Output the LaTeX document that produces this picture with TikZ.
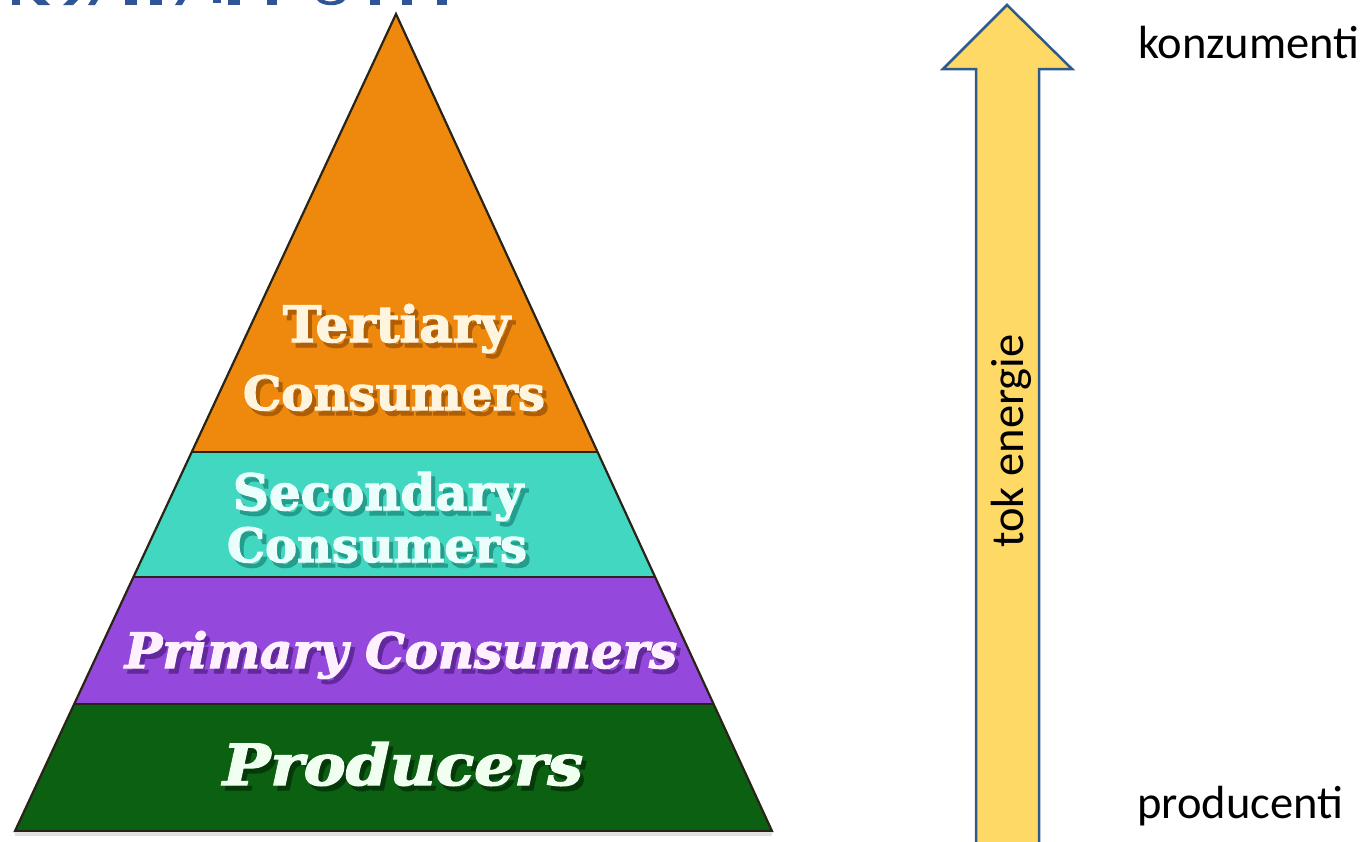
\documentclass[tikz,border=0pt]{standalone}
\usepackage{fontspec}
\usepackage{graphicx}
\setmainfont{Carlito}
\newfontfamily\slab[BoldFeatures={FakeBold=2.5},BoldItalicFeatures={FakeBold=2.5}]{DejaVu Serif}
\usetikzlibrary{calc}
\definecolor{orangeL}{HTML}{EE890E}
\definecolor{orangeD}{HTML}{7A3A00}
\definecolor{tealL}{HTML}{42D7C1}
\definecolor{tealD}{HTML}{0E6E60}
\definecolor{purpleL}{HTML}{9448DC}
\definecolor{purpleD}{HTML}{3A0F6A}
\definecolor{greenL}{HTML}{0C6012}
\definecolor{greenD}{HTML}{021F04}
\colorlet{orangeS}{orangeL!45!orangeD}
\colorlet{tealS}{tealL!45!tealD}
\colorlet{purpleS}{purpleL!45!purpleD}
\colorlet{greenS}{greenL!40!greenD}
\definecolor{creamT}{HTML}{FFF4DE}
\definecolor{tealT}{HTML}{EAFFFB}
\definecolor{pinkT}{HTML}{FFF0FF}
\definecolor{greenT}{HTML}{F0FFF0}
\definecolor{edgeC}{HTML}{2A2418}
\definecolor{arrowFill}{HTML}{FFD966}
\definecolor{arrowLine}{HTML}{2E5C8A}
\definecolor{titleBlue}{HTML}{2F5597}
% text with drop shadow: #1 width, #2 height, #3 text colour, #4 shadow colour, #5 text
\newcommand\shtext[5]{%
  \rlap{\hspace*{4bp}\raisebox{-5bp}{\textcolor{#4}{\resizebox{#1}{#2}{#5}}}}%
  \textcolor{#3}{\resizebox{#1}{#2}{#5}}}
\tikzset{
  lbl/.style={anchor=base, inner sep=0pt},
  pyredge/.style={draw=edgeC, line width=2.2bp, line join=miter},
  sepline/.style={draw=edgeC, line width=2.8bp},
  arrowst/.style={draw=arrowLine, fill=arrowFill, line width=2.5bp, line join=miter},
  sidelbl/.style={anchor=base west, inner sep=0pt, font=\fontsize{46.7}{56}\selectfont, text=black},
}
\begin{document}
\begin{tikzpicture}[x=1bp,y=-1bp]
\useasboundingbox (0,0) rectangle (1370,841);
% cut-off title fragments
\begin{scope}[fill=titleBlue]
\fill (12,0) rectangle (20,5);
\fill (33,0) -- (45,0) -- (50,5) -- (38,5) -- cycle;
\fill (68,0) -- (78,0) -- (73,5) -- (63,5) -- cycle;
\fill (91,0) -- (98,0) -- (95,5) -- (88,5) -- cycle;
\fill (125,0) rectangle (137,5);
\fill (150,0) rectangle (162,5);
\fill (178,0) -- (185,0) -- (182,5) -- (175,5) -- cycle;
\fill (213,0) rectangle (221,2.5);
\fill (228,0) rectangle (240,5);
\fill (267,0) rectangle (277,5);
\fill (317,0) .. controls (322,7) and (340,7) .. (345,0) -- (337,0) .. controls (334,2) and (327,2) .. (324,0) -- cycle;
\fill (370,0) rectangle (380,5);
\fill (402,0) rectangle (412,5);
\fill (437,0) rectangle (447,5);
\end{scope}
% pyramid
\coordinate (apex) at (396,14);
\coordinate (bl) at (15,831);
\coordinate (br) at (772,831);
\coordinate (l1) at ($(apex)!0.5361!(bl)$);
\coordinate (r1) at ($(apex)!0.5361!(br)$);
\coordinate (l2) at ($(apex)!0.6891!(bl)$);
\coordinate (r2) at ($(apex)!0.6891!(br)$);
\coordinate (l3) at ($(apex)!0.8446!(bl)$);
\coordinate (r3) at ($(apex)!0.8446!(br)$);
\draw[black!12, line width=3bp] ($(bl)+(0,3)$) -- ($(br)+(0,3)$);
\fill[orangeL] (apex) -- (l1) -- (r1) -- cycle;
\fill[tealL] (l1) -- (l2) -- (r2) -- (r1) -- cycle;
\fill[purpleL] (l2) -- (l3) -- (r3) -- (r2) -- cycle;
\fill[greenL] (l3) -- (bl) -- (br) -- (r3) -- cycle;
\draw[sepline] (l1) -- (r1);
\draw[sepline] (l2) -- (r2);
\draw[sepline] (l3) -- (r3);
\draw[pyredge] (apex) -- (bl) -- (br) -- cycle;
% pyramid labels
\node[lbl] (t1) at (396.5,342) {\shtext{227bp}{38bp}{creamT}{orangeS}{\slab\bfseries Tertiary}};
\node[lbl] (t2) at (394,410) {\shtext{302bp}{35bp}{creamT}{orangeS}{\slab\bfseries Consumers}};
\node[lbl] (t3) at (378,510) {\shtext{290bp}{38bp}{tealT}{tealS}{\slab\bfseries Secondary}};
\node[lbl] (t4) at (377,562) {\shtext{300bp}{35bp}{tealT}{tealS}{\slab\bfseries Consumers}};
\node[lbl] (t5) at (401,668) {\shtext{552bp}{37bp}{pinkT}{purpleS}{\slab\bfseries\itshape Primary Consumers}};
\node[lbl] (t6) at (403,785) {\shtext{360bp}{43bp}{greenT}{greenS}{\slab\bfseries\itshape Producers}};
% energy arrow
\draw[arrowst] (976,850) -- (976,69) -- (943,69) -- (1007,5) -- (1072,69) -- (1039,69) -- (1039,850);
\node[sidelbl, rotate=90] (tok) at (1023,548) {tok energie};
\node[sidelbl] (konz) at (1138,58) {konzumenti};
\node[sidelbl] (prod) at (1137,818) {producenti};
\end{tikzpicture}
\end{document}
